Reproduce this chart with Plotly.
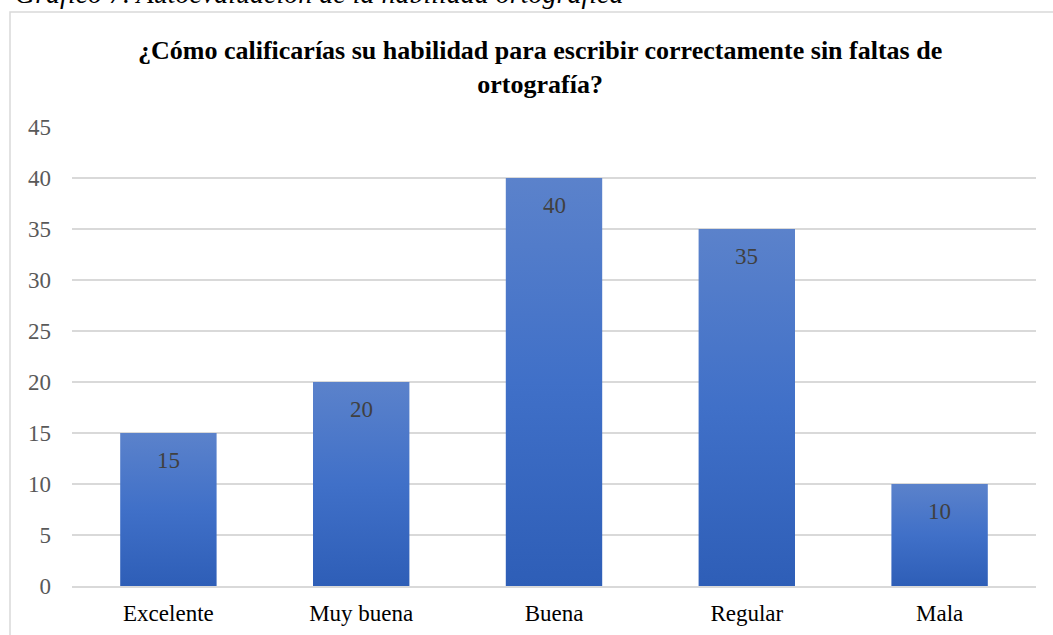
import plotly.graph_objects as go

categories = ["Excelente", "Muy buena", "Buena", "Regular", "Mala"]
values = [15, 20, 40, 35, 10]
y_ticks = [0, 5, 10, 15, 20, 25, 30, 35, 40, 45]

title_text = "<b>¿Cómo calificarías su habilidad para escribir correctamente sin faltas de<br>ortografía?</b>"
caption_text = "<i>Gráfico 7. Autoevaluación de la habilidad ortográfica</i>"

FONT = "Liberation Serif, Times New Roman, serif"
W, H = 1053, 635
L, R, T, B = 72, 17, 127, 49
pw, ph = W - L - R, H - T - B
half = 0.25

fig = go.Figure()
for i, (c, v) in enumerate(zip(categories, values)):
    xs = [i - half, i + half, i + half, i - half, i - half]
    ys = [0, 0, v, v, 0]
    fig.add_trace(go.Scatter(
        x=xs, y=ys, fill="toself", mode="lines",
        line=dict(width=0, color="rgba(0,0,0,0)"),
        fillgradient=dict(type="vertical", start=0, stop=v,
                          colorscale=[[0, "#2E5EB7"], [0.5, "#4070C8"], [1, "#5B82CB"]]),
        hoverinfo="skip", showlegend=False,
    ))
    fig.add_annotation(x=i, y=v, text=str(v), showarrow=False, yshift=-27,
                       font=dict(family=FONT, size=23, color="#404040"))

fig.add_annotation(xref="paper", yref="paper", x=0.5 + (540 - L - pw / 2) / pw,
                   y=1 + (T - 68) / ph, yanchor="middle", xanchor="center",
                   text=title_text, showarrow=False,
                   font=dict(family=FONT, size=26, color="#000000"))

fig.add_annotation(xref="paper", yref="paper", x=(13 - L) / pw, xanchor="left",
                   y=1 + (T - 11) / ph, yanchor="bottom", text=caption_text,
                   showarrow=False, font=dict(family=FONT, size=28, color="#000000"))

fig.add_shape(type="rect", xref="paper", yref="paper",
              x0=(10 - L) / pw, x1=(W + 20 - L) / pw,
              y0=-(B + 20) / ph, y1=1 + (T - 12) / ph,
              line=dict(color="#D9D9D9", width=1.5), fillcolor="rgba(0,0,0,0)", layer="below")

fig.update_layout(
    width=W, height=H,
    margin=dict(l=L, r=R, t=T, b=B, autoexpand=False),
    paper_bgcolor="white", plot_bgcolor="white",
    showlegend=False,
    xaxis=dict(range=[-0.5, 4.5], tickvals=list(range(len(categories))), ticktext=categories,
               showgrid=False, zeroline=False, showline=True, linecolor="#D9D9D9", linewidth=1.5,
               ticks="", ticklabelstandoff=6, automargin=False,
               tickfont=dict(family=FONT, size=23, color="#000000"), fixedrange=True),
    yaxis=dict(range=[0, 45], tickvals=y_ticks, showgrid=True, gridcolor="#D9D9D9", gridwidth=1.5,
               zeroline=False, showline=False, ticks="", ticklabelstandoff=20, automargin=False,
               tickfont=dict(family=FONT, size=23, color="#595959"), fixedrange=True),
)

fig.write_html("out.html", config={"displayModeBar": False})
